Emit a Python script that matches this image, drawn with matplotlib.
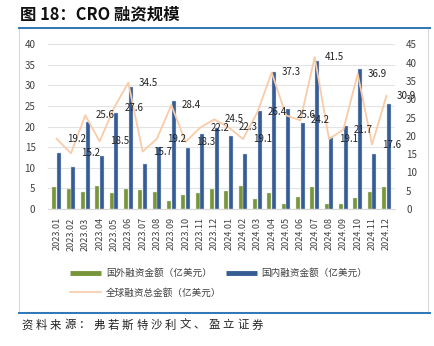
import matplotlib
matplotlib.use("Agg")
import matplotlib.pyplot as plt
from matplotlib.lines import Line2D
from matplotlib.patches import Rectangle
import numpy as np

plt.rcParams['font.family'] = ['Noto Sans CJK SC', 'DejaVu Sans']

months = ["2023.01", "2023.02", "2023.03", "2023.04", "2023.05", "2023.06",
          "2023.07", "2023.08", "2023.09", "2023.10", "2023.11", "2023.12",
          "2024.01", "2024.02", "2024.03", "2024.04", "2024.05", "2024.06",
          "2024.07", "2024.08", "2024.09", "2024.10", "2024.11", "2024.12"]
foreign = [5.4, 4.9, 4.2, 5.6, 4.0, 4.9, 4.7, 4.1, 1.9, 3.3, 3.8, 4.9,
           4.4, 5.6, 2.4, 4.0, 1.3, 3.0, 5.4, 1.3, 1.3, 2.7, 4.2, 5.4]
domestic = [13.6, 10.2, 21.2, 12.9, 23.4, 29.6, 10.9, 15.0, 26.3, 14.9, 18.2, 19.6,
            17.7, 13.4, 23.8, 33.2, 24.2, 21.0, 36.0, 17.6, 20.2, 34.1, 13.4, 25.4]
total = [19.2, 15.2, 25.6, 18.5, 27.6, 34.5, 15.7, 19.2, 28.4, 18.3, 22.2, 24.5,
         22.3, 19.1, 26.4, 37.3, 25.6, 24.2, 41.5, 19.1, 21.7, 36.9, 17.6, 30.9]
title = "图 18：CRO 融资规模"
source = "资料来源：弗若斯特沙利文、盈立证券"

c_green = "#77953A"
c_blue = "#365C94"
c_line = "#F9CBA7"

W, H = 434, 346
fig = plt.figure(figsize=(W / 100, H / 100), dpi=100)

# frame & decorative lines
fig.add_artist(Rectangle((19 / W, 1 - 312 / H), (428 - 19) / W, (312 - 28) / H,
                         transform=fig.transFigure, fill=False, edgecolor="#D9D9D9", lw=0.8))
fig.add_artist(Line2D([19 / W, 430 / W], [1 - 27.5 / H] * 2, transform=fig.transFigure,
                      color="#2E75B6", lw=1.4))
fig.add_artist(Line2D([19 / W, 430 / W], [1 - 312.5 / H] * 2, transform=fig.transFigure,
                      color="#2E75B6", lw=1.4))

fig.text(20 / W, 1 - 14 / H, title, fontsize=11.8, fontweight="bold",
         ha="left", va="center", color="#111111")
# source line with wide character pitch
pitch = 14.4
for i, ch in enumerate(source):
    fig.text((21 + i * pitch) / W, 1 - 325 / H, ch, fontsize=8.2,
             ha="left", va="center", color="#222222")

ax = fig.add_axes([48 / W, 1 - 209 / H, (395 - 48) / W, (209 - 44.3) / H])
ax2 = ax.twinx()

x = np.arange(len(months))
bw = 0.28
ax.bar(x - bw / 2 - 0.02, foreign, width=bw, color=c_green, edgecolor="#DDE6CF", linewidth=0.3, zorder=3)
ax.bar(x + bw / 2 + 0.02, domestic, width=bw, color=c_blue, edgecolor="#C9D5E8", linewidth=0.3, zorder=3)
ax.set_ylim(0, 40)
ax.set_yticks(np.arange(0, 41, 5))
ax.set_xlim(-0.6, len(months) - 0.4)
ax.set_xticks(x)
ax.set_xticklabels(months, rotation=90, fontsize=6.5, color="#404040")
ax.yaxis.grid(True, color="#E3E3E3", lw=0.8, zorder=0)
ax.set_axisbelow(True)
ax.tick_params(axis="y", length=0, pad=9, labelsize=7, labelcolor="#404040")
ax.tick_params(axis="x", length=0, pad=6)
for s in ["top", "left", "right"]:
    ax.spines[s].set_visible(False)
ax.spines["bottom"].set_color("#D9D9D9")

ax2.plot(x, total, color=c_line, lw=1.3, zorder=4)
ax2.set_ylim(0, 45)
ax2.set_yticks(np.arange(0, 46, 5))
ax2.tick_params(axis="y", length=0, pad=8, labelsize=7, labelcolor="#404040")
for s in ["top", "left", "right", "bottom"]:
    ax2.spines[s].set_visible(False)
for xi, v in zip(x, total):
    ax2.annotate(f"{v}", (xi, v), xytext=(7.5, 0), textcoords="offset points",
                 ha="left", va="center", fontsize=7, color="#222222", zorder=5)

handles = [Line2D([], [], color=c_green, lw=3.5, solid_capstyle="butt"),
           Line2D([], [], color=c_line, lw=1.2),
           Line2D([], [], color=c_blue, lw=3.5, solid_capstyle="butt")]
labels = ["国外融资金额（亿美元）", "全球融资总金额（亿美元）", "国内融资金额（亿美元）"]
fig.legend(handles, labels, ncol=2, loc="center", bbox_to_anchor=(219 / W, 1 - 283 / H),
           frameon=False, fontsize=6.9, handlelength=3.2, columnspacing=0.5,
           handletextpad=0.5, labelspacing=1.05, labelcolor="#404040")

fig.savefig("out.png", dpi=100)
